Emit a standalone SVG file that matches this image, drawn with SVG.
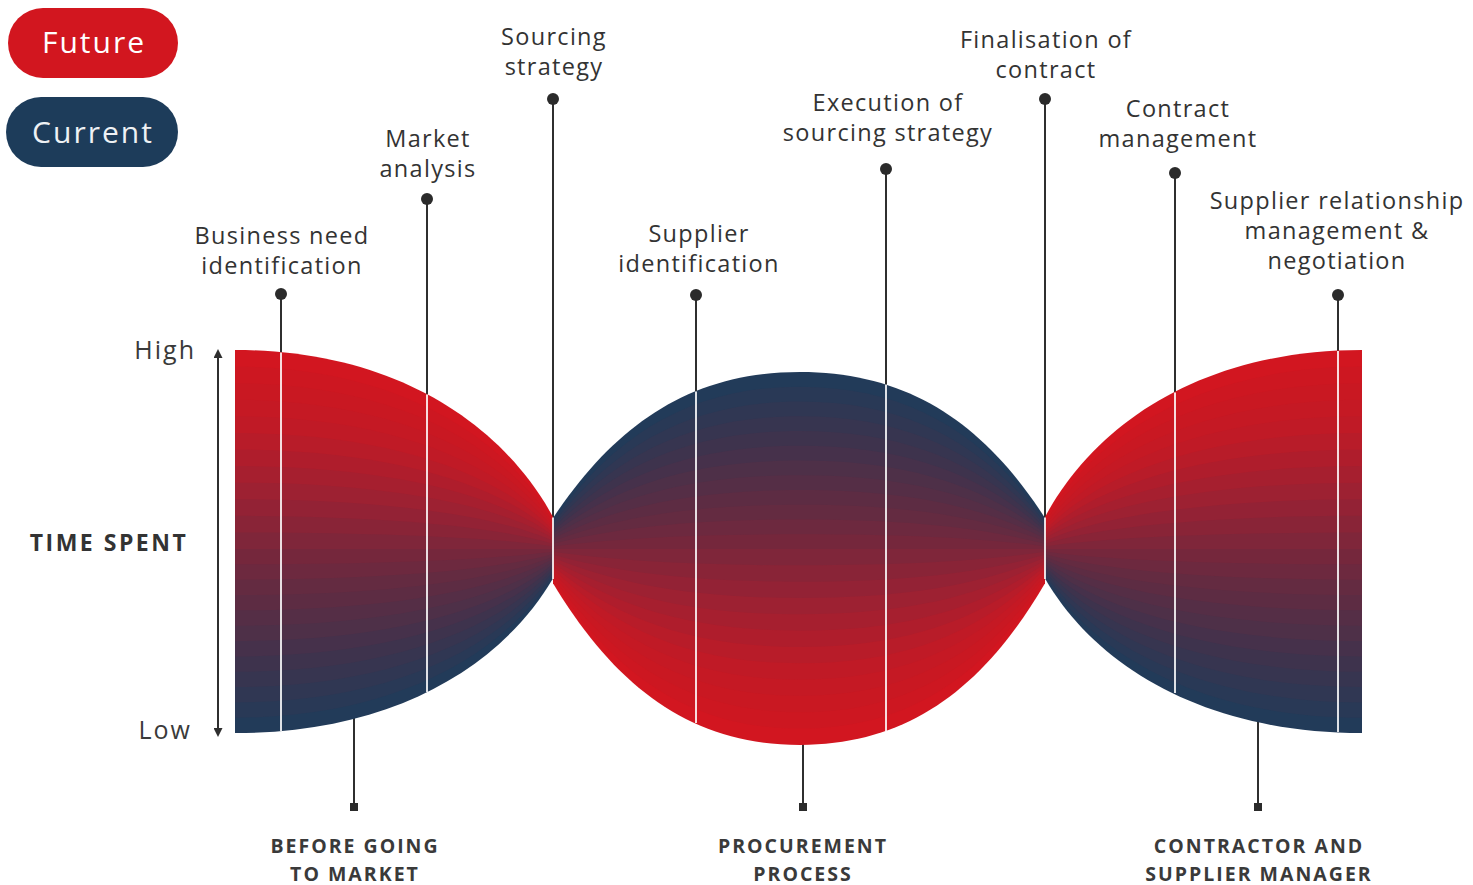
<svg xmlns="http://www.w3.org/2000/svg" width="1473" height="885" viewBox="0 0 1473 885">
  <style>
    .lbl { font-family: "Open Sans", "Liberation Sans", sans-serif; font-size: 23.5px; fill: #333; text-anchor: middle; letter-spacing: 1.3px; }
    .cat { font-family: "Open Sans", "Liberation Sans", sans-serif; font-size: 19.5px; font-weight: 700; fill: #3a3a3a; text-anchor: middle; letter-spacing: 2px; }
    .axis { font-family: "Open Sans", "Liberation Sans", sans-serif; font-size: 25px; fill: #3a3a3a; text-anchor: end; letter-spacing: 2px; }
    .pill { font-family: "Open Sans", "Liberation Sans", sans-serif; font-size: 30px; text-anchor: middle; letter-spacing: 2px; }
    .lead { stroke: #2f2f2f; stroke-width: 2; fill: none; }
    .hl { stroke: #fff; stroke-width: 2; opacity: 0.85; fill: none; }
    .dot { fill: #2b2b2b; }
    .r0 { fill: #d21620; } .r1 { fill: #cd1721; } .r2 { fill: #c91822; } .r3 { fill: #c51924; }
    .r4 { fill: #c01a26; } .r5 { fill: #b81c29; } .r6 { fill: #af1d2c; } .r7 { fill: #a61f2f; }
    .r8 { fill: #9d2132; } .r9 { fill: #932235; } .r10 { fill: #892437; } .r11 { fill: #7f263a; }
    .b0 { fill: #223b59; } .b1 { fill: #293956; } .b2 { fill: #303753; } .b3 { fill: #373550; }
    .b4 { fill: #3e334d; } .b5 { fill: #46314b; } .b6 { fill: #4e3048; } .b7 { fill: #552e46; }
    .b8 { fill: #5d2c43; } .b9 { fill: #642b41; } .b10 { fill: #6d293f; } .b11 { fill: #75273c; }
  </style>
  <defs>
    <marker id="arrow" viewBox="0 0 10 10" refX="0" refY="5" markerWidth="11" markerHeight="9" markerUnits="userSpaceOnUse" orient="auto-start-reverse">
      <path d="M0 0L10 5L0 10Z" fill="#2f2f2f"/>
    </marker>
    <!-- upper halves of the three lobes, measured from the centre line y=549 -->
    <path id="uL" d="M235 0V-199C390 -199 500 -129 553 -32V0Z"/>
    <path id="uM" d="M553 0V-31C615 -124 690 -177 800 -177C910 -177 985 -124 1045 -31V0Z"/>
    <path id="uR" d="M1045 0V-32C1097 -129 1207 -199 1362 -199V0Z"/>
  </defs>

  <rect width="1473" height="885" fill="#fff"/>

  <!-- legend -->
  <g id="legend-future">
    <rect x="8" y="8" width="170" height="70" rx="35" fill="#d2161f"/>
    <text class="pill" x="94" y="53" fill="#fff">Future</text>
  </g>
  <g id="legend-current">
    <rect x="6" y="97" width="172" height="70" rx="35" fill="#1d3c5a"/>
    <text class="pill" x="93" y="143" fill="#eef1f4">Current</text>
  </g>

  <!-- time axis -->
  <g id="axis">
    <line class="lead" x1="218" y1="358" x2="218" y2="728" marker-start="url(#arrow)" marker-end="url(#arrow)"/>
    <text class="axis" x="196" y="359">High</text>
    <text class="axis" x="192" y="739">Low</text>
    <text x="109" y="551" font-family="Open Sans, Liberation Sans, sans-serif" font-size="23" font-weight="700" letter-spacing="2.5" fill="#333" text-anchor="middle">TIME SPENT</text>
  </g>

  <!-- leader lines and stage connectors (partly hidden under the lobes) -->
  <g id="connectors">
    <line class="lead" x1="281" y1="294" x2="281" y2="362"/>
    <line class="lead" x1="427" y1="199" x2="427" y2="402"/>
    <line class="lead" x1="553" y1="99" x2="553" y2="522"/>
    <line class="lead" x1="696" y1="295" x2="696" y2="398"/>
    <line class="lead" x1="886" y1="169" x2="886" y2="392"/>
    <line class="lead" x1="1045" y1="99" x2="1045" y2="522"/>
    <line class="lead" x1="1175" y1="173" x2="1175" y2="400"/>
    <line class="lead" x1="1338" y1="295" x2="1338" y2="358"/>
    <line class="lead" x1="354" y1="712" x2="354" y2="806"/>
    <line class="lead" x1="803" y1="738" x2="803" y2="806"/>
    <line class="lead" x1="1258" y1="716" x2="1258" y2="806"/>
    <rect class="dot" x="350" y="803" width="8" height="8"/>
    <rect class="dot" x="799" y="803" width="8" height="8"/>
    <rect class="dot" x="1254" y="803" width="8" height="8"/>
  </g>

  <!-- lobe before going to market: red above, navy below -->
  <g id="lobe-before" transform="translate(0 549)">
    <use href="#uL" class="r0"/>
    <use href="#uL" class="r1" transform="scale(1 .91667)"/>
    <use href="#uL" class="r2" transform="scale(1 .83333)"/>
    <use href="#uL" class="r3" transform="scale(1 .75)"/>
    <use href="#uL" class="r4" transform="scale(1 .66667)"/>
    <use href="#uL" class="r5" transform="scale(1 .58333)"/>
    <use href="#uL" class="r6" transform="scale(1 .5)"/>
    <use href="#uL" class="r7" transform="scale(1 .41667)"/>
    <use href="#uL" class="r8" transform="scale(1 .33333)"/>
    <use href="#uL" class="r9" transform="scale(1 .25)"/>
    <use href="#uL" class="r10" transform="scale(1 .16667)"/>
    <use href="#uL" class="r11" transform="scale(1 .08333)"/>
    <use href="#uL" class="b0" transform="scale(1 -.925)"/>
    <use href="#uL" class="b1" transform="scale(1 -.84792)"/>
    <use href="#uL" class="b2" transform="scale(1 -.77083)"/>
    <use href="#uL" class="b3" transform="scale(1 -.69375)"/>
    <use href="#uL" class="b4" transform="scale(1 -.61667)"/>
    <use href="#uL" class="b5" transform="scale(1 -.53958)"/>
    <use href="#uL" class="b6" transform="scale(1 -.4625)"/>
    <use href="#uL" class="b7" transform="scale(1 -.38542)"/>
    <use href="#uL" class="b8" transform="scale(1 -.30833)"/>
    <use href="#uL" class="b9" transform="scale(1 -.23125)"/>
    <use href="#uL" class="b10" transform="scale(1 -.15417)"/>
    <use href="#uL" class="b11" transform="scale(1 -.07708)"/>
  </g>

  <!-- lobe procurement process: navy above, red below -->
  <g id="lobe-procurement" transform="translate(0 549)">
    <use href="#uM" class="b0"/>
    <use href="#uM" class="b1" transform="scale(1 .91667)"/>
    <use href="#uM" class="b2" transform="scale(1 .83333)"/>
    <use href="#uM" class="b3" transform="scale(1 .75)"/>
    <use href="#uM" class="b4" transform="scale(1 .66667)"/>
    <use href="#uM" class="b5" transform="scale(1 .58333)"/>
    <use href="#uM" class="b6" transform="scale(1 .5)"/>
    <use href="#uM" class="b7" transform="scale(1 .41667)"/>
    <use href="#uM" class="b8" transform="scale(1 .33333)"/>
    <use href="#uM" class="b9" transform="scale(1 .25)"/>
    <use href="#uM" class="b10" transform="scale(1 .16667)"/>
    <use href="#uM" class="b11" transform="scale(1 .08333)"/>
    <use href="#uM" class="r0" transform="scale(1 -1.107)"/>
    <use href="#uM" class="r1" transform="scale(1 -1.01475)"/>
    <use href="#uM" class="r2" transform="scale(1 -.9225)"/>
    <use href="#uM" class="r3" transform="scale(1 -.83025)"/>
    <use href="#uM" class="r4" transform="scale(1 -.738)"/>
    <use href="#uM" class="r5" transform="scale(1 -.64575)"/>
    <use href="#uM" class="r6" transform="scale(1 -.5535)"/>
    <use href="#uM" class="r7" transform="scale(1 -.46125)"/>
    <use href="#uM" class="r8" transform="scale(1 -.369)"/>
    <use href="#uM" class="r9" transform="scale(1 -.27675)"/>
    <use href="#uM" class="r10" transform="scale(1 -.1845)"/>
    <use href="#uM" class="r11" transform="scale(1 -.09225)"/>
  </g>

  <!-- lobe contractor and supplier manager: red above, navy below -->
  <g id="lobe-contractor" transform="translate(0 549)">
    <use href="#uR" class="r0"/>
    <use href="#uR" class="r1" transform="scale(1 .91667)"/>
    <use href="#uR" class="r2" transform="scale(1 .83333)"/>
    <use href="#uR" class="r3" transform="scale(1 .75)"/>
    <use href="#uR" class="r4" transform="scale(1 .66667)"/>
    <use href="#uR" class="r5" transform="scale(1 .58333)"/>
    <use href="#uR" class="r6" transform="scale(1 .5)"/>
    <use href="#uR" class="r7" transform="scale(1 .41667)"/>
    <use href="#uR" class="r8" transform="scale(1 .33333)"/>
    <use href="#uR" class="r9" transform="scale(1 .25)"/>
    <use href="#uR" class="r10" transform="scale(1 .16667)"/>
    <use href="#uR" class="r11" transform="scale(1 .08333)"/>
    <use href="#uR" class="b0" transform="scale(1 -.925)"/>
    <use href="#uR" class="b1" transform="scale(1 -.84792)"/>
    <use href="#uR" class="b2" transform="scale(1 -.77083)"/>
    <use href="#uR" class="b3" transform="scale(1 -.69375)"/>
    <use href="#uR" class="b4" transform="scale(1 -.61667)"/>
    <use href="#uR" class="b5" transform="scale(1 -.53958)"/>
    <use href="#uR" class="b6" transform="scale(1 -.4625)"/>
    <use href="#uR" class="b7" transform="scale(1 -.38542)"/>
    <use href="#uR" class="b8" transform="scale(1 -.30833)"/>
    <use href="#uR" class="b9" transform="scale(1 -.23125)"/>
    <use href="#uR" class="b10" transform="scale(1 -.15417)"/>
    <use href="#uR" class="b11" transform="scale(1 -.07708)"/>
  </g>

  <!-- light rules where the leaders cross the lobes -->
  <g id="highlights">
    <line class="hl" x1="281" y1="352.5" x2="281" y2="731"/>
    <line class="hl" x1="427" y1="394.5" x2="427" y2="692"/>
    <line class="hl" x1="553" y1="517.5" x2="553" y2="579"/>
    <line class="hl" x1="696" y1="391.5" x2="696" y2="723"/>
    <line class="hl" x1="886" y1="384.5" x2="886" y2="731"/>
    <line class="hl" x1="1045" y1="517.5" x2="1045" y2="579"/>
    <line class="hl" x1="1175" y1="392.5" x2="1175" y2="693"/>
    <line class="hl" x1="1338" y1="351" x2="1338" y2="732"/>
  </g>

  <!-- stage labels -->
  <g id="business-need">
    <circle class="dot" cx="281" cy="294" r="6"/>
    <text class="lbl" x="282" y="244">Business need</text>
    <text class="lbl" x="282" y="274">identification</text>
  </g>
  <g id="market-analysis">
    <circle class="dot" cx="427" cy="199" r="6"/>
    <text class="lbl" x="428" y="147">Market</text>
    <text class="lbl" x="428" y="177">analysis</text>
  </g>
  <g id="sourcing-strategy">
    <circle class="dot" cx="553" cy="99" r="6"/>
    <text class="lbl" x="554" y="45">Sourcing</text>
    <text class="lbl" x="554" y="75">strategy</text>
  </g>
  <g id="supplier-identification">
    <circle class="dot" cx="696" cy="295" r="6"/>
    <text class="lbl" x="699" y="242">Supplier</text>
    <text class="lbl" x="699" y="272">identification</text>
  </g>
  <g id="execution">
    <circle class="dot" cx="886" cy="169" r="6"/>
    <text class="lbl" x="888" y="111">Execution of</text>
    <text class="lbl" x="888" y="141">sourcing strategy</text>
  </g>
  <g id="finalisation">
    <circle class="dot" cx="1045" cy="99" r="6"/>
    <text class="lbl" x="1046" y="48">Finalisation of</text>
    <text class="lbl" x="1046" y="78">contract</text>
  </g>
  <g id="contract-management">
    <circle class="dot" cx="1175" cy="173" r="6"/>
    <text class="lbl" x="1178" y="117">Contract</text>
    <text class="lbl" x="1178" y="147">management</text>
  </g>
  <g id="supplier-relationship">
    <circle class="dot" cx="1338" cy="295" r="6"/>
    <text class="lbl" x="1337" y="209">Supplier relationship</text>
    <text class="lbl" x="1337" y="239">management &amp;</text>
    <text class="lbl" x="1337" y="269">negotiation</text>
  </g>

  <!-- phase captions -->
  <g id="phase-before">
    <text class="cat" x="355" y="853">BEFORE GOING</text>
    <text class="cat" x="355" y="881">TO MARKET</text>
  </g>
  <g id="phase-procurement">
    <text class="cat" x="803" y="853">PROCUREMENT</text>
    <text class="cat" x="803" y="881">PROCESS</text>
  </g>
  <g id="phase-contractor">
    <text class="cat" x="1259" y="853">CONTRACTOR AND</text>
    <text class="cat" x="1259" y="881">SUPPLIER MANAGER</text>
  </g>
</svg>
